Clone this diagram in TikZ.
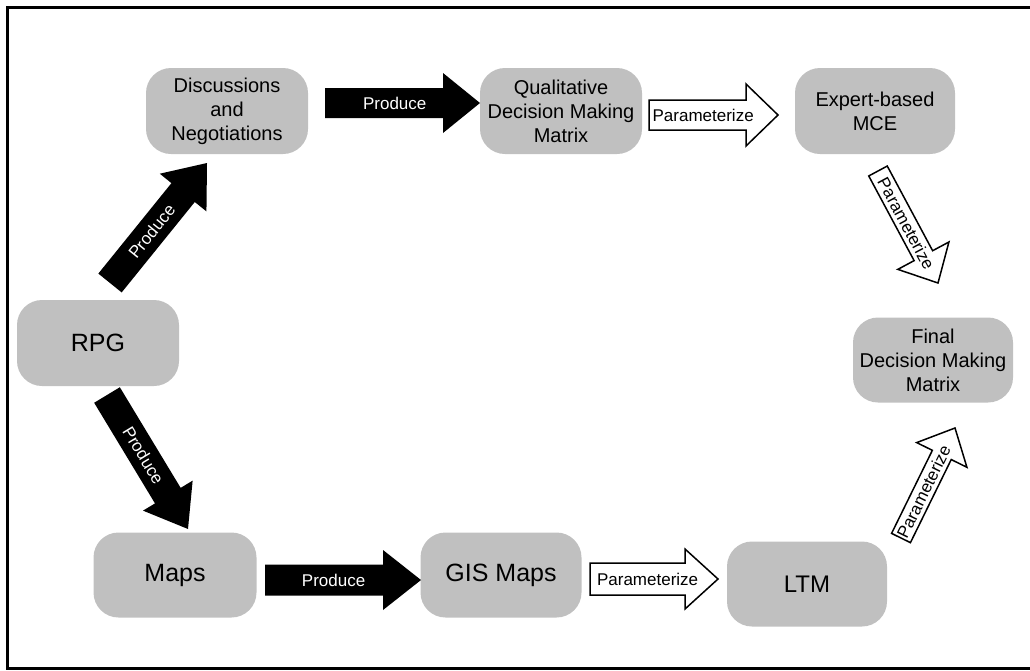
\documentclass[tikz,border=0pt]{standalone}
\usepackage{fontspec}
\setmainfont{Liberation Sans}
\usetikzlibrary{calc}
\definecolor{boxgray}{RGB}{192,192,192}
\tikzset{
  box/.style={rectangle, fill=boxgray, draw=none, rounded corners=25pt, inner sep=0pt,
    minimum width=162pt, minimum height=86pt, align=center, text=black},
  bigtxt/.style={font=\fontsize{20}{24}\selectfont},
  hugetxt/.style={font=\fontsize{25}{30}\selectfont},
  blackarrow/.style={fill=black, draw=none},
  whitearrow/.style={fill=white, draw=black, line width=1.5pt, line join=miter},
  blacklabel/.style={text=white, font=\fontsize{17}{20}\selectfont, inner sep=0pt},
  whitelabel/.style={text=black, font=\fontsize{17}{20}\selectfont, inner sep=0pt},
}
% #1 tail, #2 tip, #3 shaft half width, #4 head half width, #5 head length, #6 style
\newcommand\blockarr[6]{%
  \coordinate (hb) at ($(#2)!#5!(#1)$);
  \path[#6] ($(#1)!#3!90:(#2)$) -- ($(hb)!#3!90:(#2)$) -- ($(hb)!#4!90:(#2)$) -- (#2)
    -- ($(hb)!#4!-90:(#2)$) -- ($(hb)!#3!-90:(#2)$) -- ($(#1)!#3!-90:(#2)$) -- cycle;
}
\begin{document}
\begin{tikzpicture}[x=1pt, y=-1pt]
\useasboundingbox (0,0) rectangle (1030,670);
\draw[line width=3pt] (7,7) rectangle (1040,668.5);

% nodes
\node[box, bigtxt] (disc) at (227,111) {Discussions\\and\\Negotiations};
\node[box, bigtxt] (qual) at (561,111) {Qualitative\\Decision Making\\Matrix};
\node[box, bigtxt, minimum width=160pt] (expert) at (875,111) {Expert-based\\MCE};
\node[box, bigtxt, minimum width=160pt, minimum height=85pt] (final) at (933,360) {Final\\Decision Making\\Matrix};
\node[box, hugetxt] (rpg) at (98,343) {RPG};
\node[box, hugetxt, minimum width=163pt, minimum height=85pt] (maps) at (175,575) {Maps};
\node[box, hugetxt, minimum width=161pt, minimum height=85pt] (gis) at (501,575) {GIS Maps};
\node[box, hugetxt, minimum width=160pt, minimum height=85pt, font=\fontsize{24}{28}\selectfont] (ltm) at (807,584) {LTM};

% arrow end points
\coordinate (a1t) at (110,283); \coordinate (a1h) at (207,163);
\coordinate (a2t) at (325,103); \coordinate (a2h) at (480,103);
\coordinate (a3t) at (649,115); \coordinate (a3h) at (778,115);
\coordinate (a4t) at (878,171); \coordinate (a4h) at (938,283);
\coordinate (a5t) at (107,395); \coordinate (a5h) at (188,529);
\coordinate (a6t) at (265,580); \coordinate (a6h) at (421,580);
\coordinate (a7t) at (590,579); \coordinate (a7h) at (718,579);
\coordinate (a8t) at (901,538); \coordinate (a8h) at (955,428);

% arrows
\blockarr{a1t}{a1h}{15pt}{30pt}{38pt}{blackarrow}
\path (a1t) -- node[blacklabel, sloped, pos=0.43] {Produce} (a1h);
\blockarr{a2t}{a2h}{15pt}{30pt}{37pt}{blackarrow}
\path (a2t) -- node[blacklabel, pos=0.45] {Produce} (a2h);
\blockarr{a3t}{a3h}{15pt}{31pt}{32pt}{whitearrow}
\path (a3t) -- node[whitelabel, pos=0.42] {Parameterize} (a3h);
\blockarr{a4t}{a4h}{10.5pt}{29pt}{31pt}{whitearrow}
\path (a4t) -- node[whitelabel, sloped, pos=0.47] {Parameterize} (a4h);
\blockarr{a5t}{a5h}{15pt}{29pt}{39pt}{blackarrow}
\path (a5t) -- node[blacklabel, sloped, pos=0.45] {Produce} (a5h);
\blockarr{a6t}{a6h}{15.5pt}{30pt}{38pt}{blackarrow}
\path (a6t) -- node[blacklabel, pos=0.44] {Produce} (a6h);
\blockarr{a7t}{a7h}{16pt}{30pt}{33pt}{whitearrow}
\path (a7t) -- node[whitelabel, pos=0.45] {Parameterize} (a7h);
\blockarr{a8t}{a8h}{10.5pt}{28pt}{30pt}{whitearrow}
\path (a8t) -- node[whitelabel, sloped, pos=0.42] {Parameterize} (a8h);
\end{tikzpicture}
\end{document}
